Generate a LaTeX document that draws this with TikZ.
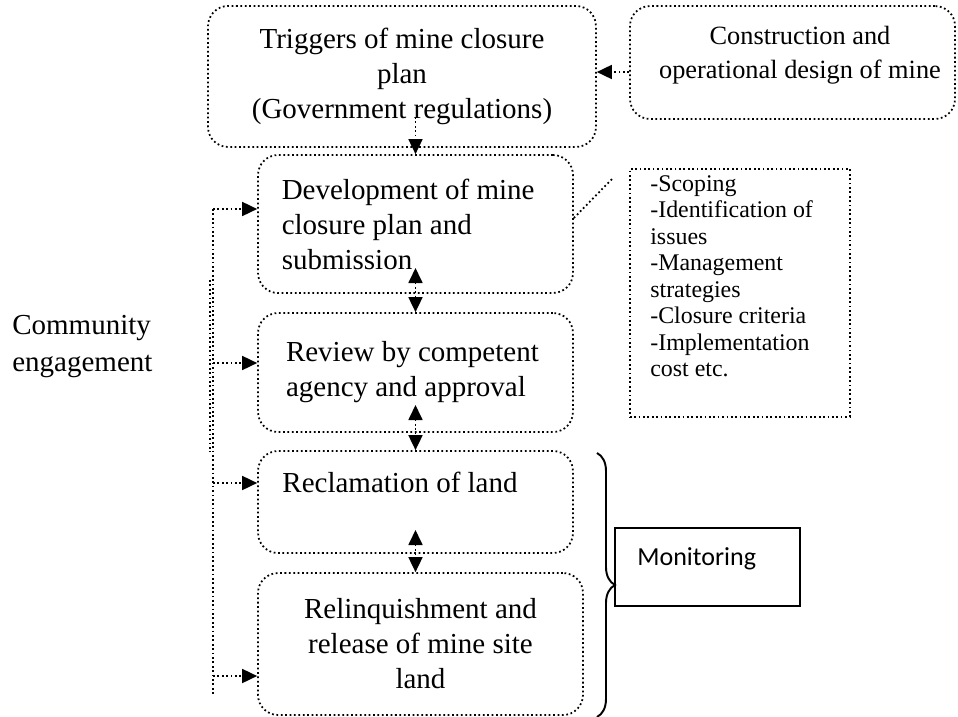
\documentclass[tikz,border=0pt]{standalone}
\usepackage{fontspec}
\setmainfont{Liberation Serif}
\newfontfamily\calibri{Carlito}
\usetikzlibrary{arrows.meta}
\usetikzlibrary{decorations.pathreplacing}

\begin{document}
\begin{tikzpicture}[x=0.02cm, y=-0.02cm,
  every node/.style = {align=center, inner sep=0pt, font=\fontsize{16.5}{19.9}\selectfont},
  loose/.style = {line width=1pt, dash pattern=on 1pt off 1.5pt},
  stage/.style = {draw, loose, rounded corners=0.4cm, minimum width=6.3cm},
  flow/.style = {loose, -{Triangle[length=0.3cm, width=0.28cm]}},
  twoway/.style = {loose, {Triangle[length=0.3cm, width=0.28cm]}-{Triangle[length=0.3cm, width=0.28cm]}},
  small/.style = {font=\fontsize{13.6}{15.1}\selectfont}]

\useasboundingbox (0,0) rectangle (958,717);

\node[stage, minimum width=7.76cm, minimum height=2.82cm] (trig) at (402,76.5)
  {Triggers of mine closure\\ plan\\ (Government regulations)};
\node[stage, minimum width=6.5cm, minimum height=2.26cm] (cons) at (792.5,62.5) {};
\node[font=\fontsize{15}{19.5}\selectfont] (constext) at (800,55)
  {Construction and\\ operational design of mine};

\node[stage, minimum height=2.76cm, text width=5.35cm, align=flush left] (dev) at (415.5,224)
  {Development of mine\\ closure plan and\\ submission};
\node[stage, minimum height=2.38cm, text width=5.18cm, align=flush left] (rev) at (415.5,372.5)
  {Review by competent\\ agency and approval};
\node[stage, minimum height=2.04cm] (recl) at (415.5,502) {};
\node[anchor=base] (recltext) at (400,492) {Reclamation of land};
\node[stage, minimum width=6.5cm, minimum height=2.84cm] (reli) at (420.5,644)
  {Relinquishment and\\ release of mine site\\ land};

\node[draw, loose, minimum width=4.4cm, minimum height=4.96cm, anchor=north west] (notes) at (629,168) {};
\node[small, anchor=north west, align=flush left] (steps) at (650,175)
  {-Scoping\\ -Identification of\\ issues\\ -Management\\ strategies\\ -Closure criteria\\ -Implementation\\ cost etc.};

\node[draw, line width=1pt, minimum width=3.7cm, minimum height=1.56cm] (mon) at (707.5,567) {};
\node[anchor=base west, font=\calibri\fontsize{14.8}{18}\selectfont] (montext) at (637,565) {Monitoring};

\node[anchor=north west, align=left, font=\fontsize{16.5}{21}\selectfont] (comm) at (12,315)
  {Community\\ engagement};

\coordinate (railtop) at (213,209);
\coordinate (railbot) at (213,695);
\coordinate (noteend) at (612,179);

\draw[flow] (cons.west |- 0,72) -- (trig.east |- 0,72);
\draw[flow] (dev.north |- 0,117) -- (dev.north);
\draw[twoway] (dev.south |- 0,268) -- (rev.north);
\draw[twoway] (rev.south |- 0,405) -- (recl.north);
\draw[twoway] (recl.south |- 0,530) -- (recl.south |- reli.north);
\draw[loose] (dev.east |- 0,218) -- (noteend);

\draw[loose] (railtop) -- (railbot);
\draw[loose] (210,280) -- (210,452);
\foreach \b/\y in {dev/209, rev/363, recl/483, reli/676}
  \draw[flow] (213,\y) -- (\b.west |- 0,\y);

\draw[line width=1.1pt, decorate, decoration={brace, amplitude=0.36cm}] (597,453) -- (597,717);
\end{tikzpicture}
\end{document}
